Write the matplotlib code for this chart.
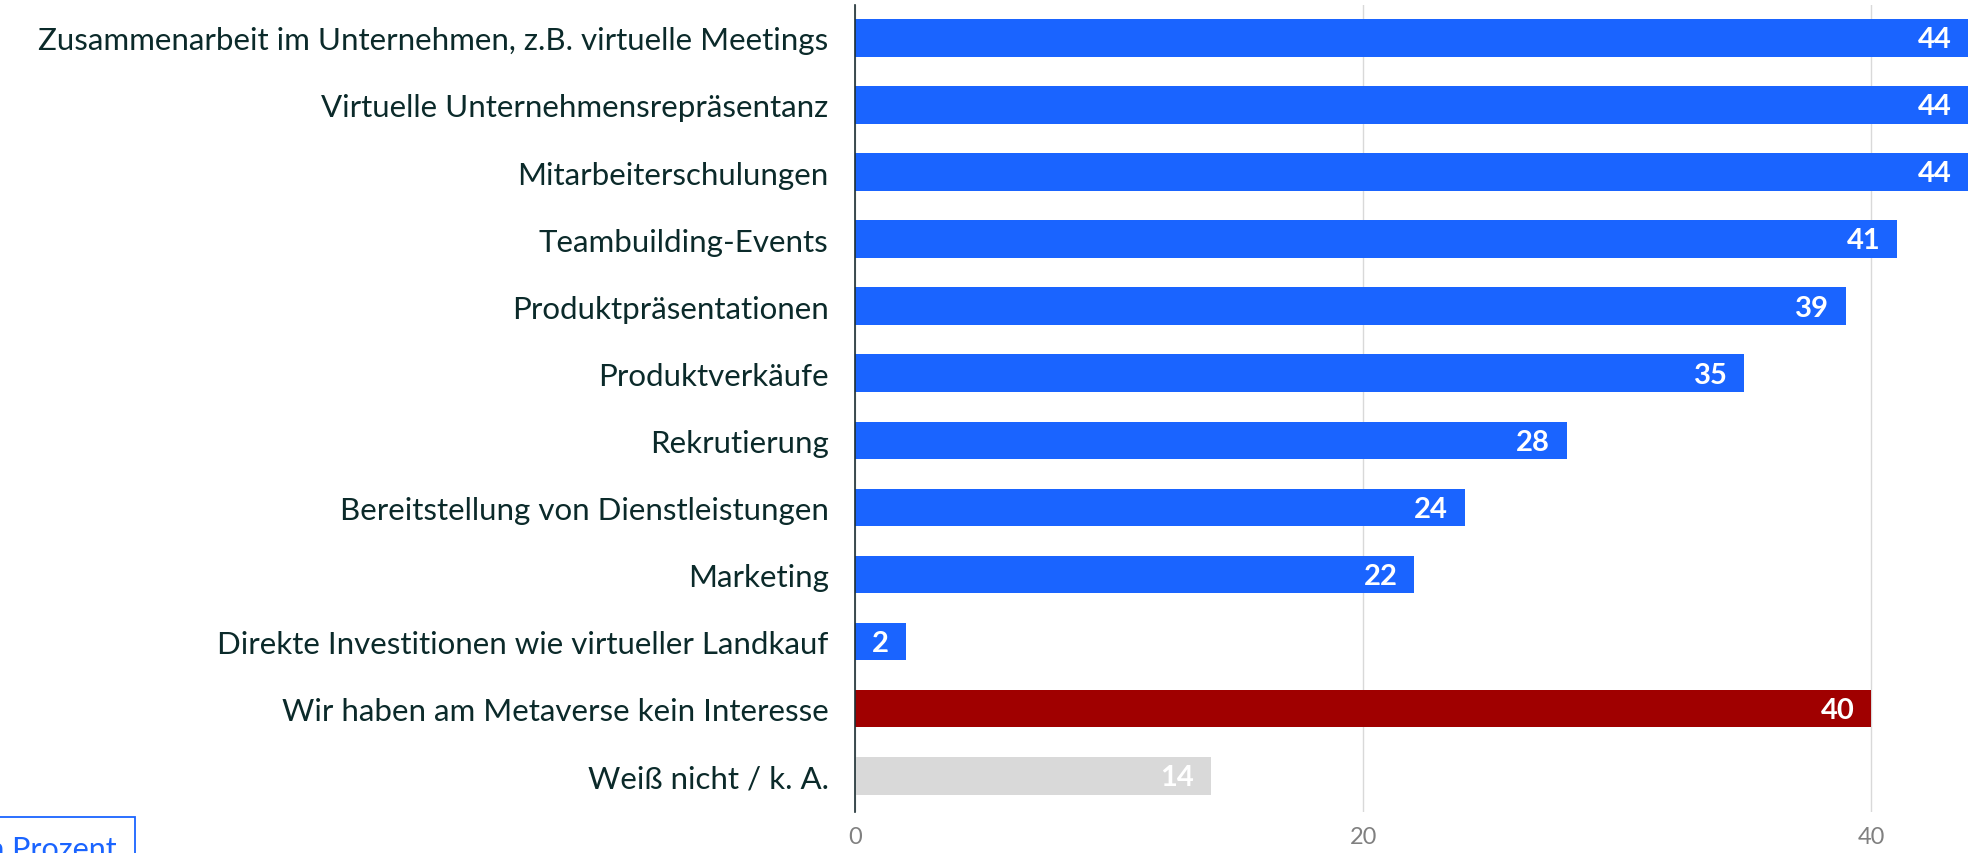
import matplotlib.pyplot as plt
import numpy as np

plt.rcParams['font.family'] = ['Lato', 'DejaVu Sans']

# data
categories = ["Zusammenarbeit im Unternehmen, z.B. virtuelle Meetings",
              "Virtuelle Unternehmensrepräsentanz",
              "Mitarbeiterschulungen",
              "Teambuilding-Events",
              "Produktpräsentationen",
              "Produktverkäufe",
              "Rekrutierung",
              "Bereitstellung von Dienstleistungen",
              "Marketing",
              "Direkte Investitionen wie virtueller Landkauf",
              "Wir haben am Metaverse kein Interesse",
              "Weiß nicht / k. A."]
values = [44, 44, 44, 41, 39, 35, 28, 24, 22, 2, 40, 14]
bar_colors = ["#1a64ff"] * 10 + ["#a00000", "#d9d9d9"]
x_ticks = [0, 20, 40]

fig = plt.figure(figsize=(19.68, 8.54), dpi=100)
ax = fig.add_axes([0.4345, 0.048, 0.5655, 0.945])

pos = np.arange(len(categories))
ax.barh(pos, values, height=0.56, color=bar_colors, zorder=2)

xmax = 43.8
ax.set_xlim(0, xmax)
ax.set_ylim(len(categories) - 0.46, -0.49)

for p, v in zip(pos, values):
    ax.annotate(str(v), (min(v, xmax), p), xytext=(-12, -1), textcoords="offset points",
                ha="right", va="center", color="white", fontsize=21, fontweight="bold",
                zorder=3, clip_on=False)

ax.set_yticks(pos)
ax.set_yticklabels(categories, fontsize=22.5, color="#0b2a2a")
ax.tick_params(axis="y", length=0, pad=19)
ax.set_xticks(x_ticks)
ax.tick_params(axis="x", length=0, pad=10, labelsize=17, labelcolor="#808080")
ax.grid(axis="x", color="#d9d9d9", linewidth=1, zorder=0)
for s in ["top", "right", "bottom"]:
    ax.spines[s].set_visible(False)
ax.spines["left"].set_color("#1c2f33")
ax.spines["left"].set_linewidth(1.2)
ax.spines["left"].set_zorder(4)

fig.text(0.0595, -0.012, "in Prozent", ha="right", va="bottom", fontsize=22, color="#1a64ff",
         bbox=dict(boxstyle="square,pad=0.6", facecolor="white", edgecolor="#1a64ff", linewidth=1.3))

fig.savefig("out.png", dpi=100)
